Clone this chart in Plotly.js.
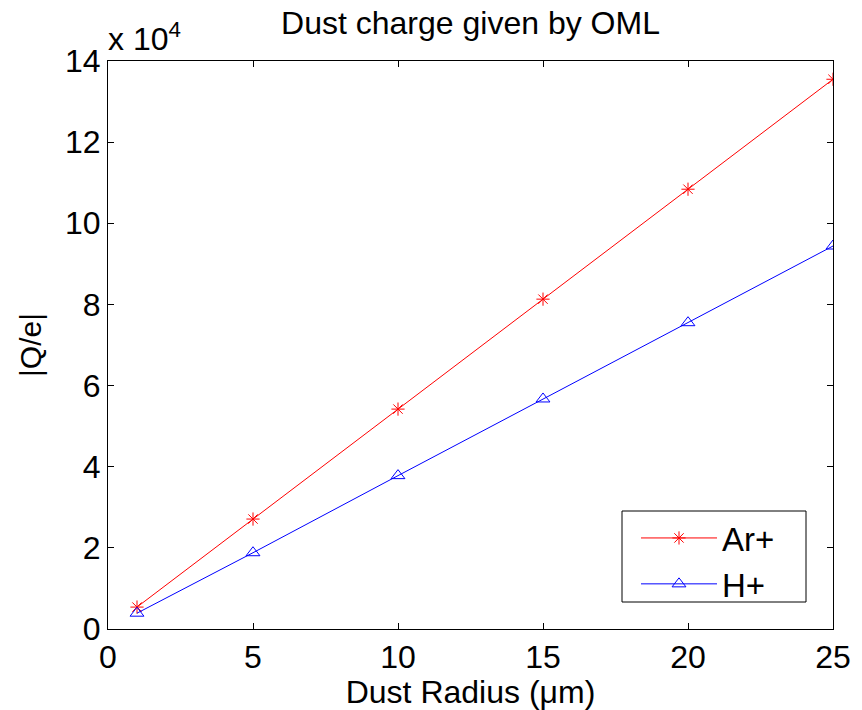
<!DOCTYPE html>
<html>
<head>
<meta charset="utf-8">
<script src="https://cdn.plot.ly/plotly-3.0.1.min.js"></script>
<style>html,body{margin:0;padding:0;background:#fff;}#chart{width:862px;height:710px;}</style>
</head>
<body>
<div id="chart"></div>
<script>
// Dust radius (micrometres)
const radius = [1, 5, 10, 15, 20, 25];
// |Q/e| in units of 10^4
const chargeAr = [0.54, 2.71, 5.42, 8.13, 10.84, 13.55];
const chargeH = [0.39, 1.88, 3.78, 5.67, 7.55, 9.44];
const seriesNames = ['Ar+', 'H+'];
const xTicks = [0, 5, 10, 15, 20, 25];
const yTicks = [0, 2, 4, 6, 8, 10, 12, 14];

const FONT = 'Liberation Sans, Arial, Helvetica, sans-serif';

const traces = [
  {
    x: radius, y: chargeAr, name: seriesNames[0], type: 'scatter', mode: 'lines+markers',
    line: {color: '#ff0000', width: 1},
    marker: {symbol: 'asterisk-open', size: 11, color: '#ff0000', line: {color: '#ff0000', width: 1}}
  },
  {
    x: radius, y: chargeH, name: seriesNames[1], type: 'scatter', mode: 'lines+markers',
    line: {color: '#0000ff', width: 1},
    marker: {symbol: 'triangle-up-open', size: 12, color: '#0000ff', line: {color: '#0000ff', width: 1}}
  }
];

const axisCommon = {
  showgrid: false, zeroline: false, showline: true, linecolor: '#000', linewidth: 1,
  mirror: 'ticks', ticks: 'inside', ticklen: 6, tickcolor: '#000', tickwidth: 1,
  tickfont: {family: FONT, size: 32, color: '#000'}, automargin: false
};

// plot area in pixels, used to place the legend frame
const PL = 108, PR = 833, PT = 61, PB = 629;
const px2x = (p) => (p - PL) / (PR - PL);
const px2y = (p) => (PB - p) / (PB - PT);

const layout = {
  width: 862, height: 710,
  margin: {l: 108, r: 29, t: 61, b: 81, pad: 0},
  paper_bgcolor: '#fff', plot_bgcolor: '#fff',
  font: {family: FONT, color: '#000'},
  title: {
    text: 'Dust charge given by OML',
    font: {family: FONT, size: 32, color: '#000'},
    x: 0.5, xref: 'paper', y: 1 - 23 / 710, yref: 'container', yanchor: 'middle'
  },
  xaxis: Object.assign({}, axisCommon, {
    range: [0, 25], tickmode: 'array', tickvals: xTicks, ticktext: xTicks.map(String),
    title: {text: 'Dust Radius (\u03bcm)', font: {family: FONT, size: 32, color: '#000'}, standoff: 2}
  }),
  yaxis: Object.assign({}, axisCommon, {
    range: [0, 14], tickmode: 'array', tickvals: yTicks, ticktext: yTicks.map(String),
    title: {text: '|Q/e|', font: {family: FONT, size: 30, color: '#000'}, standoff: 14}
  }),
  showlegend: true,
  legend: {
    x: px2x(636), y: px2y(612), xanchor: 'left', yanchor: 'bottom',
    bgcolor: 'rgba(0,0,0,0)', borderwidth: 0,
    font: {family: FONT, size: 33, color: '#000'},
    itemwidth: 76, tracegroupgap: 0
  },
  shapes: [
    {
      type: 'rect', xref: 'paper', yref: 'paper',
      x0: px2x(622), x1: px2x(806), y0: px2y(602), y1: px2y(511),
      line: {color: '#000', width: 1}, fillcolor: '#fff', layer: 'above'
    }
  ],
  annotations: [
    {
      text: 'x 10<sup>4</sup>', xref: 'paper', yref: 'paper', x: 0, y: 1,
      xanchor: 'left', yanchor: 'bottom', showarrow: false, yshift: 2, xshift: -2,
      font: {family: FONT, size: 32, color: '#000'}
    }
  ]
};

Plotly.newPlot('chart', traces, layout, {displayModeBar: false, staticPlot: true});
</script>
</body>
</html>
